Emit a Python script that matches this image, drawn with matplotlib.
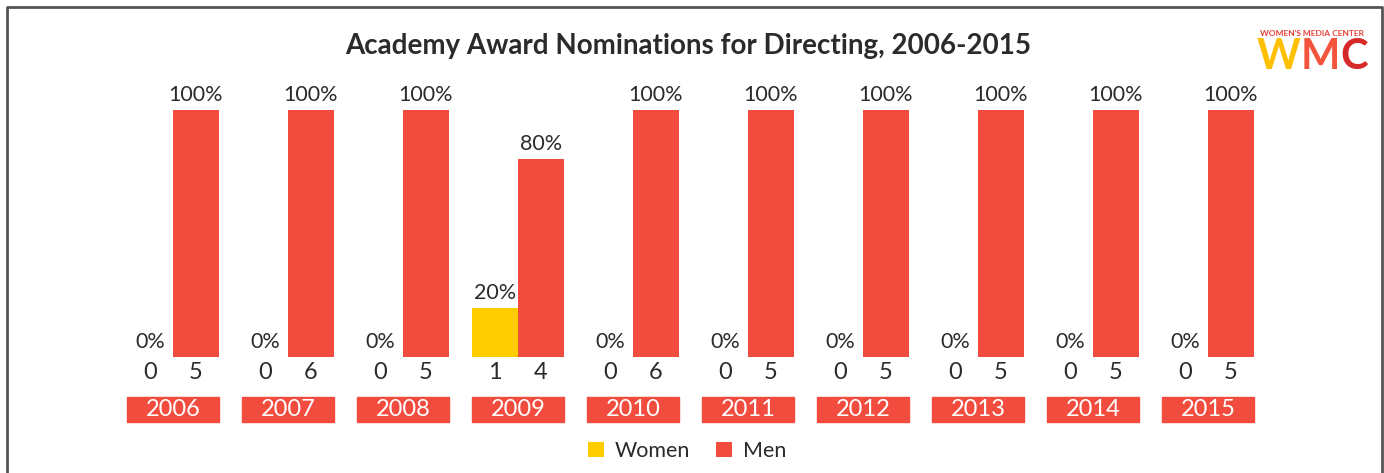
import numpy as np
import matplotlib.pyplot as plt
from matplotlib.patches import Rectangle
from matplotlib.lines import Line2D

years = [2006, 2007, 2008, 2009, 2010, 2011, 2012, 2013, 2014, 2015]
women = [0, 0, 0, 1, 0, 0, 0, 0, 0, 0]
men = [5, 6, 5, 4, 6, 5, 5, 5, 5, 5]

RED = "#F24C3F"
YELLOW = "#FFCC00"
TXT = "#2b2b2b"

plt.rcParams["font.family"] = ["Lato", "DejaVu Sans"]

W, H = 1384, 473
fig = plt.figure(figsize=(W / 100, H / 100), dpi=100)

# axes placed so group centres fall at 173 + 115*i px, baseline at y=357 px, 100% at 110 px
ax = fig.add_axes([0, (H - 357) / H, 1, (357 - 110) / H])
ax.set_xlim(-173 / 115, (W - 173) / 115)
ax.set_ylim(0, 100)
ax.axis("off")

x = np.arange(len(years))
tot = np.array(women) + np.array(men)
wp = 100 * np.array(women) / tot
mp = 100 * np.array(men) / tot
bw = 0.4

ax.bar(x - bw / 2, wp, bw, color=YELLOW, label="Women")
ax.bar(x + bw / 2, mp, bw, color=RED, label="Men")

for i in range(len(years)):
    ax.text(x[i] - bw / 2, wp[i] + 2, f"{wp[i]:.0f}%", ha="center", va="bottom",
            fontsize=15.5, color=TXT)
    ax.text(x[i] + bw / 2, mp[i] + 2, f"{mp[i]:.0f}%", ha="center", va="bottom",
            fontsize=15.5, color=TXT)
    ax.text(x[i] - bw / 2, -6.4, str(women[i]), ha="center", va="center",
            fontsize=17, color=TXT, clip_on=False)
    ax.text(x[i] + bw / 2, -6.4, str(men[i]), ha="center", va="center",
            fontsize=17, color=TXT, clip_on=False)
    ax.add_patch(Rectangle((x[i] - 0.4, -26.3), 0.8, 10.1, color=RED,
                           clip_on=False))
    ax.text(x[i], -21.3, str(years[i]), ha="center", va="center",
            fontsize=17, color="white", clip_on=False)

fig.text(688 / W, 1 - 46 / H, "Academy Award Nominations for Directing, 2006-2015",
         ha="center", va="center", fontsize=20, fontweight="bold", color=TXT)

fig.legend(loc="center", bbox_to_anchor=(687 / W, 1 - 451 / H), ncol=2,
           frameon=False, fontsize=15.5, handlelength=0.75, handleheight=0.75,
           columnspacing=1.2, handletextpad=0.5, labelcolor=TXT)

# logo
fig.text(1312 / W, 1 - 34 / H, "WOMEN'S MEDIA CENTER", ha="center", va="center",
         fontsize=6, fontweight="bold", color="#e8413a")
for ch, cx, col in [("W", 1279, "#FFC000"), ("M", 1320, "#F2553C"), ("C", 1354, "#D62A2A")]:
    fig.text(cx / W, 1 - 57 / H, ch, ha="center", va="center", fontsize=30,
             fontweight="bold", color=col)

# frame (no bottom edge)
fx = [7 / W, 7 / W, 1382 / W, 1382 / W]
fy = [0, 1 - 7 / H, 1 - 7 / H, 0]
fig.add_artist(Line2D(fx, fy, color="#555555", lw=2, transform=fig.transFigure))

fig.savefig("out.png", dpi=100)
